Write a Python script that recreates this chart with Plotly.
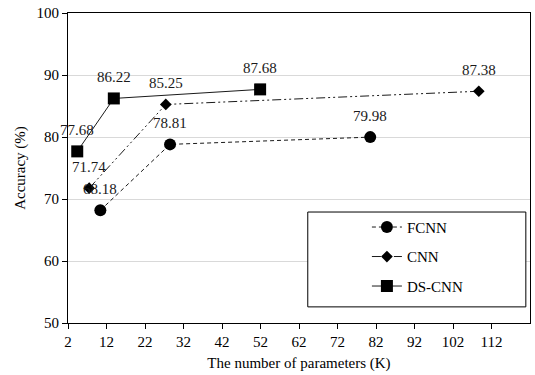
import plotly.graph_objects as go

# Data
fcnn_x = [10.4, 28.5, 80.5]
fcnn_y = [68.18, 78.81, 79.98]
cnn_x = [7.5, 27.4, 108.7]
cnn_y = [71.74, 85.25, 87.38]
dscnn_x = [4.4, 13.9, 51.9]
dscnn_y = [77.68, 86.22, 87.68]
x_ticks = [2, 12, 22, 32, 42, 52, 62, 72, 82, 92, 102, 112]
y_ticks = [50, 60, 70, 80, 90, 100]

FONT = "Liberation Serif"
fig = go.Figure()

def add(name, xs, ys, dash, symbol, size, group):
    fig.add_trace(go.Scatter(
        x=xs, y=ys, name=name, mode="lines+markers",
        line=dict(color="#1a1a1a", width=1, dash=dash),
        marker=dict(symbol=symbol, size=size, color="black"),
        legendgroup=group, cliponaxis=False,
    ))
    for xv, yv in zip(xs, ys):
        fig.add_annotation(x=xv, y=yv, text=f"{yv:.2f}", showarrow=False,
                           yshift=21, font=dict(family=FONT, size=15, color="#1a1a1a"))

add("FCNN", fcnn_x, fcnn_y, "4px,3px", "circle", 12, "a")
add("CNN", cnn_x, cnn_y, "9px,3px,2px,3px,2px,3px", "diamond", 9, "b")
add("DS-CNN", dscnn_x, dscnn_y, "solid", "square", 12, "c")

fig.add_shape(type="rect", xref="paper", yref="paper",
              x0=0.519, x1=0.991, y0=0.052, y1=0.358,
              line=dict(color="black", width=1), fillcolor="white", layer="above")

fig.update_layout(
    width=535, height=375,
    margin=dict(l=68, r=5, t=13, b=52),
    paper_bgcolor="white", plot_bgcolor="white",
    font=dict(family=FONT, size=14, color="black"),
    showlegend=True,
    legend=dict(x=0.647, y=0.362, xanchor="left", yanchor="top",
                bgcolor="rgba(0,0,0,0)", borderwidth=0,
                font=dict(family=FONT, size=15, color="black"),
                tracegroupgap=7),
    xaxis=dict(range=[2, 122], tickvals=x_ticks, showgrid=False,
               showline=True, linecolor="black", linewidth=1, mirror=True,
               ticks="outside", ticklen=5, tickcolor="black",
               zeroline=False, tickfont=dict(family=FONT, size=15),
               title=dict(text="The number of parameters (K)", standoff=8,
                          font=dict(family=FONT, size=15))),
    yaxis=dict(range=[50, 100], tickvals=y_ticks, showgrid=True,
               gridcolor="#d9d9d9", gridwidth=1,
               showline=True, linecolor="black", linewidth=1, mirror=True,
               ticks="outside", ticklen=5, tickcolor="black",
               zeroline=False, tickfont=dict(family=FONT, size=15),
               title=dict(text="Accuracy (%)", standoff=7,
                          font=dict(family=FONT, size=15))),
)

fig.write_html("out.html")
